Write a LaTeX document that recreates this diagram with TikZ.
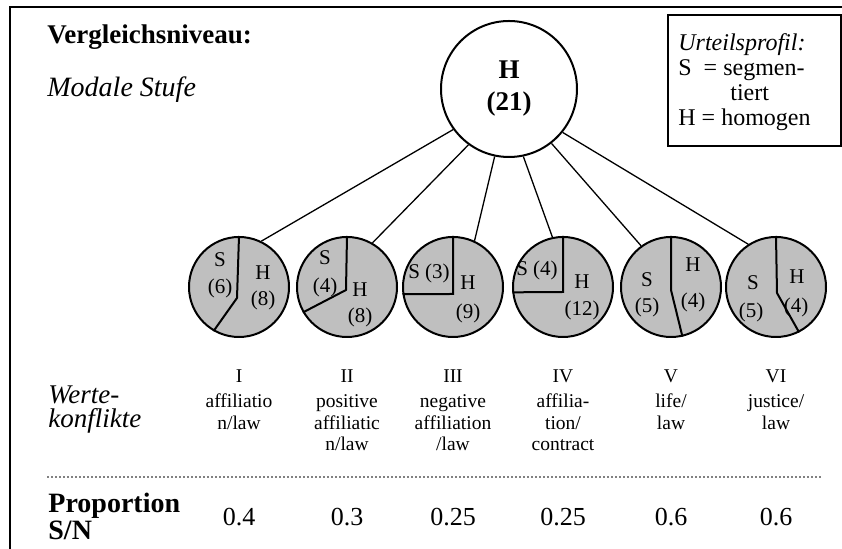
\documentclass[tikz,border=0pt]{standalone}
\usepackage{fontspec}
\setmainfont{Liberation Serif}
\usetikzlibrary{positioning,calc}

\tikzset{
  seg/.style={circle,draw,line width=1pt,fill=black!25,minimum size=50pt,inner sep=0pt},
  split/.style={line width=1pt},
  branch/.style={line width=0.65pt},
  pielab/.style={font=\fontsize{10.5}{12}\selectfont,inner sep=0pt},
  collab/.style={font=\fontsize{9.75}{10.75}\selectfont,align=center,inner sep=0pt,anchor=north},
  rowlab/.style={font=\fontsize{13.5}{12}\selectfont\itshape,align=left,inner sep=0pt,anchor=north west},
  val/.style={font=\fontsize{13}{15}\selectfont,inner sep=0pt}
}

\begin{document}
\begin{tikzpicture}[x=0.5pt,y=-0.5pt]
    \useasboundingbox (0,0) rectangle (842,549);
    % Frame
    \draw[line width=1pt] (10,549) -- (10,7) -- (842,7);

    % Headings
    \node[font=\fontsize{13.5}{15}\selectfont\bfseries,inner sep=0pt,anchor=base west] (niveau) at (47,44) {Vergleichsniveau:};
    \node[font=\fontsize{14}{16}\selectfont\itshape,inner sep=0pt,anchor=base west] (stufe) at (47,97) {Modale Stufe};

    % Legend
    \node[draw,line width=1pt,minimum width=86.5pt,minimum height=65.5pt,anchor=north west] (legbox) at (667,14) {};
    \node[font=\fontsize{12}{12.5}\selectfont,align=left,inner sep=0pt,anchor=north west] (legtxt) at (678,33) {\textit{Urteilsprofil:}\\S\ \ = segmen-\\\hspace*{26pt}tiert\\H = homogen};

    % Top node
    \node[circle,draw,line width=1pt,fill=white,minimum size=68pt,inner sep=0pt,align=center,font=\fontsize{13.5}{16}\selectfont\bfseries] (top) at (509,89) {H\\(21)};

    % Value conflicts
    \node[seg] (c1) at (239,287) {};
    \node[seg] (c2) at (347,287) {};
    \node[seg] (c3) at (453,287) {};
    \node[seg] (c4) at (563,287) {};
    \node[seg] (c5) at (671,287) {};
    \node[seg] (c6) at (776,287) {};

    \draw[branch] (top.216) -- (c1.64);
    \draw[branch] (top.234) -- (c2.60);
    \draw[branch] (top.258) -- (c3.65);
    \draw[branch] (top.282) -- (c4.102);
    \draw[branch] (top.308) -- (c5.126);
    \draw[branch] (top.321) -- (c6.123);

    % Segments S / H
    \draw[split] (c1.north) -- ($(c1.center)+(-2,11)$) -- (c1.240);
    \draw[split] (c2.north) -- ($(c2.center)+(-1,3)$) -- (c2.210);
    \draw[split] (c3.north) -- ($(c3.center)+(0,7)$) -- (c3.188);
    \draw[split] (c4.north) -- ($(c4.center)+(0,5)$) -- (c4.186);
    \draw[split] (c5.north) -- ($(c5.center)+(0,3)$) -- (c5.283);
    \draw[split] (c6.north) -- ($(c6.center)+(1,6)$) -- (c6.297);

    \node[pielab] (s1) at (220,260) {S}; \node[pielab] (sn1) at (220,288) {(6)};
    \node[pielab] (h1) at (263,273) {H}; \node[pielab] (hn1) at (263,300) {(8)};
    \node[pielab] (s2) at (325,258) {S}; \node[pielab] (sn2) at (325,287) {(4)};
    \node[pielab] (h2) at (360,290) {H}; \node[pielab] (hn2) at (360,317) {(8)};
    \node[pielab] (s3) at (429,273) {S (3)};
    \node[pielab] (h3) at (468,283) {H}; \node[pielab] (hn3) at (468,313) {(9)};
    \node[pielab] (s4) at (537,270) {S (4)};
    \node[pielab] (h4) at (582,282) {H}; \node[pielab] (hn4) at (582,310) {(12)};
    \node[pielab] (s5) at (647,280) {S}; \node[pielab] (sn5) at (647,307) {(5)};
    \node[pielab] (h5) at (693,265) {H}; \node[pielab] (hn5) at (693,302) {(4)};
    \node[pielab] (s6) at (753,283) {S}; \node[pielab] (sn6) at (751,312) {(5)};
    \node[pielab] (h6) at (797,277) {H}; \node[pielab] (hn6) at (796,307) {(4)};

    % Columns
    \node[rowlab] (werte) at (48,385) {Werte-\\konflikte};
    \node[collab] (k1) at (239,369) {I\\[2pt]affiliatio\\n/law};
    \node[collab] (k2) at (347,369) {II\\[2pt]positive\\affiliatic\\n/law};
    \node[collab] (k3) at (453,369) {III\\[2pt]negative\\affiliation\\/law};
    \node[collab] (k4) at (563,369) {IV\\[2pt]affilia-\\tion/\\contract};
    \node[collab] (k5) at (671,369) {V\\[2pt]life/\\law};
    \node[collab] (k6) at (776,369) {VI\\[2pt]justice/\\law};

    % Dotted rule
    \coordinate (dl) at (48,477); \coordinate (dr) at (823,477);
    \draw[line width=0.8pt,line cap=round,dash pattern=on 0pt off 2pt] (dl) -- (dr);

    % Proportion S/N
    \node[rowlab,font=\fontsize{14}{13.5}\selectfont\bfseries] (prop) at (48,493) {Proportion\\S/N};
    \node[val] (v1) at (239,517) {0.4};
    \node[val] (v2) at (347,517) {0.3};
    \node[val] (v3) at (453,517) {0.25};
    \node[val] (v4) at (563,517) {0.25};
    \node[val] (v5) at (671,517) {0.6};
    \node[val] (v6) at (776,517) {0.6};
\end{tikzpicture}
\end{document}
